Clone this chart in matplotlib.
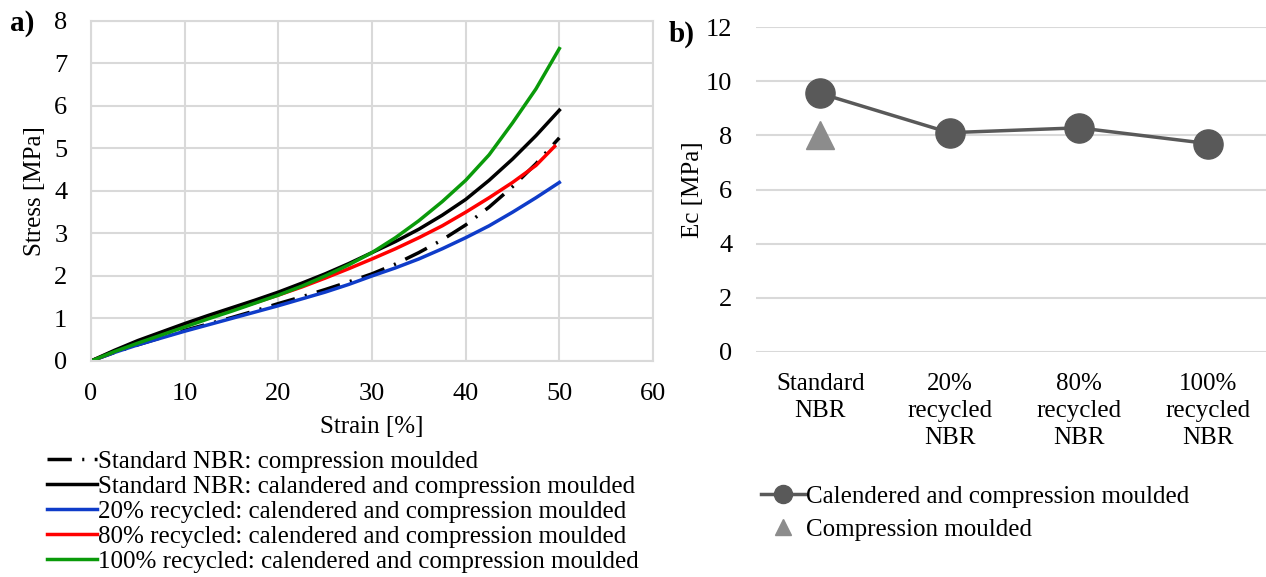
import matplotlib.pyplot as plt

plt.rcParams['font.family'] = ['Liberation Serif', 'DejaVu Serif']
plt.rcParams['font.size'] = 18

# panel a) stress-strain curves
strain = [0, 2.5, 5, 7.5, 10, 12.5, 15, 17.5, 20, 22.5, 25, 27.5, 30, 32.5, 35, 37.5, 40, 42.5, 45, 47.5, 50]
std_cm = [0, 0.2, 0.38, 0.55, 0.72, 0.87, 1.02, 1.18, 1.35, 1.51, 1.68, 1.86, 2.05, 2.28, 2.55, 2.85, 3.2, 3.62, 4.1, 4.64, 5.25]
std_cal = [0, 0.25, 0.48, 0.68, 0.88, 1.07, 1.25, 1.43, 1.62, 1.83, 2.05, 2.29, 2.55, 2.81, 3.1, 3.43, 3.8, 4.25, 4.75, 5.3, 5.9]
rec20 = [0, 0.2, 0.38, 0.54, 0.7, 0.85, 1.0, 1.15, 1.3, 1.46, 1.62, 1.8, 2.0, 2.19, 2.4, 2.64, 2.9, 3.18, 3.5, 3.84, 4.2]
strain80 = [0, 2.5, 5, 7.5, 10, 12.5, 15, 17.5, 20, 22.5, 25, 27.5, 30, 32.5, 35, 37.5, 40, 42.5, 45, 47.5, 49.5]
rec80 = [0, 0.23, 0.45, 0.66, 0.85, 1.03, 1.2, 1.37, 1.55, 1.74, 1.95, 2.17, 2.4, 2.64, 2.9, 3.18, 3.5, 3.84, 4.2, 4.6, 5.05]
rec100 = [0, 0.22, 0.42, 0.61, 0.8, 0.99, 1.17, 1.36, 1.55, 1.76, 2.0, 2.26, 2.55, 2.9, 3.3, 3.75, 4.25, 4.85, 5.6, 6.4, 7.35]

# panel b) compression modulus
materials = ['Standard\nNBR', '20%\nrecycled\nNBR', '80%\nrecycled\nNBR', '100%\nrecycled\nNBR']
ec_cal = [9.55, 8.1, 8.28, 7.7]
ec_cm = [8.0]

fig = plt.figure(figsize=(12.66, 5.77), dpi=100)
grid_c = '#d9d9d9'

ax1 = fig.add_axes([0.0719, 0.3744, 0.4439, 0.5893])
l1, = ax1.plot(strain, std_cm, color='black', lw=2.5, dashes=(7, 3, 0.6, 3))
l3, = ax1.plot(strain, rec20, color='#0f3cc9', lw=2.5)
l4, = ax1.plot(strain80, rec80, color='#ff0000', lw=2.5)
l2, = ax1.plot(strain, std_cal, color='black', lw=2.5)
l5, = ax1.plot(strain, rec100, color='#0a9a0a', lw=2.5)
ax1.set_xlim(0, 60)
ax1.set_ylim(0, 8)
ax1.set_xticks(range(0, 61, 10))
ax1.set_yticks(range(0, 9))
ax1.grid(color=grid_c, lw=1.5)
for s in ax1.spines.values():
    s.set_color(grid_c)
    s.set_linewidth(1.5)
ax1.tick_params(length=0, labelsize=19)
ax1.tick_params(axis='x', pad=16)
ax1.tick_params(axis='y', pad=17)
ax1.set_xlabel('Strain [%]', fontsize=18, labelpad=8)
ax1.set_ylabel('Stress [MPa]', fontsize=18, labelpad=6)
ax1.set_axisbelow(True)

fig.legend([l1, l2, l3, l4, l5],
           ['Standard NBR: compression moulded',
            'Standard NBR: calandered and compression moulded',
            '20% recycled: calendered and compression moulded',
            '80% recycled: calendered and compression moulded',
            '100% recycled: calendered and compression moulded'],
           loc='upper left', bbox_to_anchor=(0.037, 0.22), frameon=False,
           fontsize=18, handlelength=2.0, handletextpad=0.05, labelspacing=0.1,
           borderaxespad=0, borderpad=0)

ax2 = fig.add_axes([0.597, 0.39, 0.403, 0.563])
xs = list(range(len(materials)))
c1, = ax2.plot(xs, ec_cal, color='#595959', lw=2.5, marker='o', markersize=21)
c2, = ax2.plot(xs[:1], ec_cm, ls='none', color='#8c8c8c', marker='^', markersize=20)
ax2.set_xlim(-0.5, 3.45)
ax2.set_ylim(0, 12)
ax2.set_yticks(range(0, 13, 2))
ax2.set_xticks(xs)
ax2.set_xticklabels(materials, linespacing=1.3)
ax2.grid(axis='y', color=grid_c, lw=1.5)
for s in ax2.spines.values():
    s.set_visible(False)
ax2.tick_params(length=0, labelsize=19)
ax2.tick_params(axis='x', pad=15, labelsize=18)
ax2.tick_params(axis='y', pad=17)
ax2.set_ylabel('Ec [MPa]', fontsize=18, labelpad=1)
ax2.set_axisbelow(True)

lg1, = plt.plot([], [], color='#595959', lw=2.5, marker='o', markersize=13)
lg2, = plt.plot([], [], ls='none', color='#8c8c8c', marker='^', markersize=12)
fig.legend([lg1, lg2], ['Calendered and compression moulded', 'Compression moulded'],
           loc='upper left', bbox_to_anchor=(0.601, 0.159), frameon=False,
           fontsize=18, handlelength=1.75, handletextpad=0.05, labelspacing=0.42,
           borderaxespad=0, borderpad=0)

fig.text(0.008, 0.96, 'a)', fontsize=21, fontweight='bold', va='center')
fig.text(0.528, 0.94, 'b)', fontsize=21, fontweight='bold', va='center')

fig.savefig('out.png', dpi=100)
